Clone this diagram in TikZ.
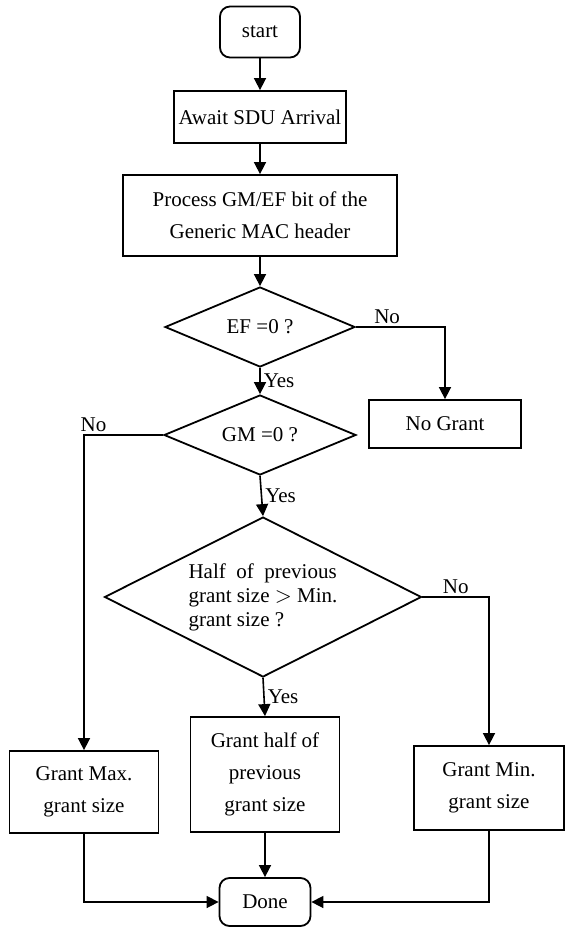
\documentclass[tikz,border=0pt]{standalone}
\usepackage{fontspec}
\setmainfont{Liberation Serif}
\usetikzlibrary{shapes.geometric,arrows.meta}
\begin{document}
\begin{tikzpicture}[x=0.5pt,y=-0.5pt,
  every node/.style={font=\fontsize{10.5}{16}\selectfont},
  proc/.style={draw, line width=0.9pt, align=center, inner sep=0pt},
  term/.style={proc, rounded corners=5pt},
  dia/.style={draw, diamond, line width=0.9pt, inner sep=0pt},
  conn/.style={line width=0.8pt, -{Triangle[length=6pt,width=6pt]}},
  lbl/.style={inner sep=1.5pt}
]
\useasboundingbox (0,0) rectangle (571,928);

\node[term, minimum width=40pt, minimum height=25.5pt] (start) at (260,32) {start};
\node[proc, minimum width=86pt, minimum height=26pt] (await) at (260,117) {Await SDU Arrival};
\node[proc, minimum width=137pt, minimum height=40.5pt] (process) at (260,215.5) {Process GM/EF bit of the\\Generic MAC header};
\node[dia, minimum width=95pt, minimum height=40pt] (ef) at (260,327) {};
\node (eft) at (ef.center) {EF =0 ?};
\node[proc, minimum width=76pt, minimum height=24pt] (nogrant) at (445,424) {No Grant};
\node[dia, minimum width=96pt, minimum height=40pt] (gm) at (260,435) {};
\node (gmt) at (gm.center) {GM =0 ?};
\node[dia, minimum width=158.5pt, minimum height=80pt] (half) at (263,597) {};
\node[align=left, font=\fontsize{10.5}{12}\selectfont] (halft) at (half.center) {Half\ \ of\ \ previous\\grant size $>$ Min.\\grant size ?};
\node[proc, minimum width=74.5pt, minimum height=41pt] (gmax) at (84,792) {Grant Max.\\grant size};
\node[proc, minimum width=74.5pt, minimum height=57.5pt] (ghalf) at (265,774.5) {Grant half of\\previous\\grant size};
\node[proc, minimum width=75pt, minimum height=42pt] (gmin) at (489,788) {Grant Min.\\grant size};
\node[term, minimum width=45.5pt, minimum height=24pt] (done) at (265,902) {Done};

\draw[conn] (start) -- (await);
\draw[conn] (await) -- (process);
\draw[conn] (process.south) -- (ef.north);
\draw[conn] (ef.east) -- node[lbl, above, pos=0.35] (no1) {No} (nogrant.north |- ef.east) -- (nogrant.north);
\draw[conn] (ef.south) -- node[lbl, right, pos=0.5] (yes1) {Yes} (gm.north);
\draw[conn] (gm.west) -- node[lbl, above, pos=0.88] (no2) {No} (gmax.north |- gm.west) -- (gmax.north);
\draw[conn] (gm.south) -- node[lbl, right, pos=0.5] (yes2) {Yes} (half.north);
\draw[conn] (half.east) -- node[lbl, above, pos=0.5] (no3) {No} (gmin.north |- half.east) -- (gmin.north);
\draw[conn] (half.south) -- node[lbl, right, pos=0.5] (yes3) {Yes} (ghalf.north);
\draw[conn] (ghalf.south) -- (done.north);
\draw[conn] (gmax.south) -- (gmax.south |- done.west) -- (done.west);
\draw[conn] (gmin.south) -- (gmin.south |- done.east) -- (done.east);
\end{tikzpicture}
\end{document}
